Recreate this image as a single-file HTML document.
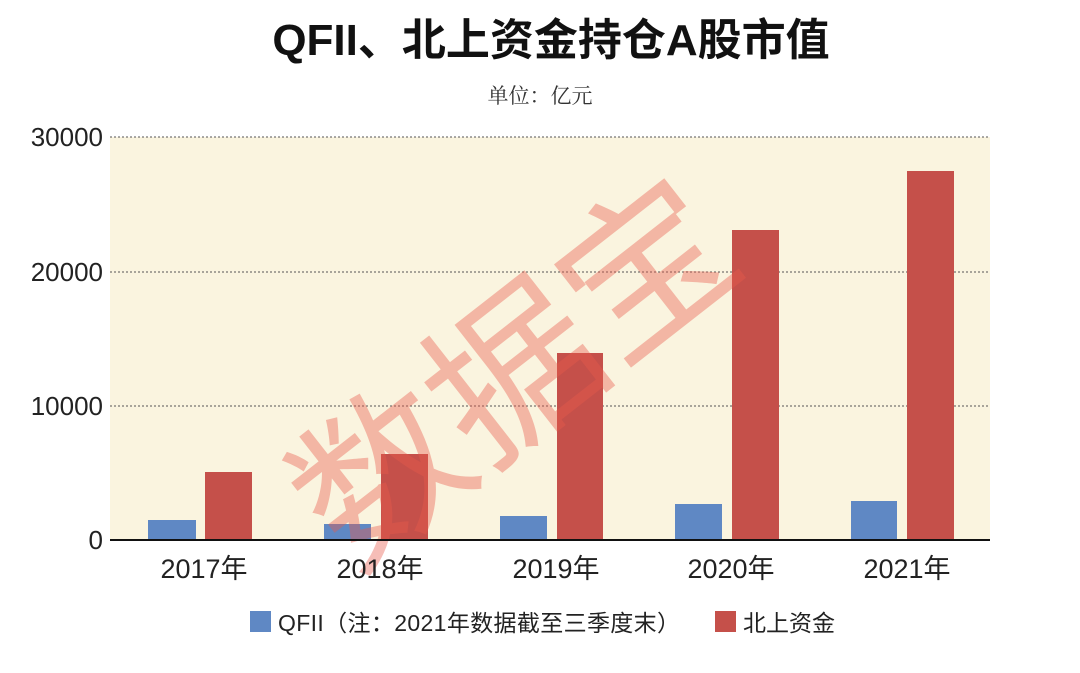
<!DOCTYPE html>
<html><head><meta charset="utf-8"><style>
body{margin:0;background:#fff;}
svg{display:block;font-family:"Liberation Sans","Noto Sans CJK SC",sans-serif;}
</style></head><body>
<svg width="1080" height="673" viewBox="0 0 1080 673" xmlns="http://www.w3.org/2000/svg">
<rect x="0" y="0" width="1080" height="673" fill="#fff"/>
<text x="551" y="55" text-anchor="middle" font-size="44" font-weight="bold" fill="#111">QFII、北上资金持仓A股市值</text>
<text x="540" y="103" text-anchor="middle" font-size="21" fill="#333" font-family="'Noto Serif CJK SC',serif">单位：亿元</text>
<rect x="110" y="137" width="880" height="403" fill="#faf4df"/>
<g stroke="#555" stroke-width="1" stroke-dasharray="2,2">
<line x1="110" y1="137" x2="990" y2="137"/>
<line x1="110" y1="272" x2="990" y2="272"/>
<line x1="110" y1="406" x2="990" y2="406"/>
</g>
<g font-size="26" fill="#222" text-anchor="end">
<text x="103" y="146">30000</text>
<text x="103" y="281">20000</text>
<text x="103" y="415">10000</text>
<text x="103" y="549">0</text>
</g>
<g fill="#5f88c4">
<rect x="148" y="520" width="48" height="20"/>
<rect x="324" y="524" width="47" height="16"/>
<rect x="500" y="516" width="47" height="24"/>
<rect x="675" y="504" width="47" height="36"/>
<rect x="851" y="501" width="46" height="39"/>
</g>
<g fill="#c5504a">
<rect x="205" y="472" width="47" height="68"/>
<rect x="381" y="454" width="47" height="86"/>
<rect x="557" y="353" width="46" height="187"/>
<rect x="732" y="230" width="47" height="310"/>
<rect x="907" y="171" width="47" height="369"/>
</g>
<text x="520" y="430" font-size="168" font-weight="normal" style="font-weight:400" fill="#e85a4a" fill-opacity="0.4" text-anchor="middle" transform="rotate(-38 520 380)" font-family="'Noto Sans CJK SC',sans-serif">数据宝</text>
<line x1="110" y1="540" x2="990" y2="540" stroke="#111" stroke-width="2"/>
<g font-size="27" fill="#222" text-anchor="middle">
<text x="204" y="578">2017年</text>
<text x="380" y="578">2018年</text>
<text x="556" y="578">2019年</text>
<text x="731" y="578">2020年</text>
<text x="907" y="578">2021年</text>
</g>
<rect x="250" y="611" width="21" height="21" fill="#5f88c4"/>
<text x="278" y="631" font-size="23" fill="#222" textLength="402">QFII（注：2021年数据截至三季度末）</text>
<rect x="715" y="611" width="21" height="21" fill="#c5504a"/>
<text x="743" y="631" font-size="23" fill="#222">北上资金</text>
</svg>
</body></html>
